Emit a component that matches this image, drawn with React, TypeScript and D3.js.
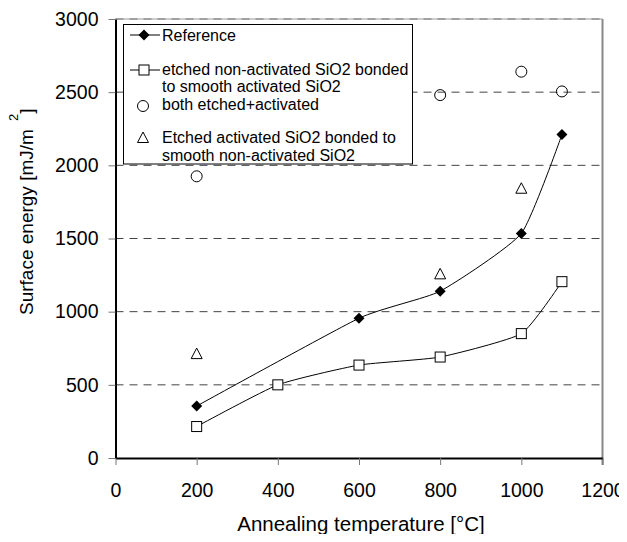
import React, { useEffect, useRef } from 'react';
import * as d3 from 'd3';

const WIDTH = 627;
const HEIGHT = 542;

const MARGIN = { top: 19, right: 24.5, bottom: 84, left: 115.5 };

// series
const refTemps = [200, 600, 800, 1000, 1100];
const refValues = [355, 955, 1140, 1535, 2210];

const etchedNonActTemps = [200, 400, 600, 800, 1000, 1100];
const etchedNonActValues = [215, 500, 635, 690, 850, 1205];

const bothTemps = [200, 800, 1000, 1100];
const bothValues = [1925, 2480, 2640, 2505];

const etchedActTemps = [200, 800, 1000];
const etchedActValues = [710, 1255, 1840];

const xTicks = [0, 200, 400, 600, 800, 1000, 1200];
const yTicks = [0, 500, 1000, 1500, 2000, 2500, 3000];

const FONT = '"Liberation Sans", Arial, sans-serif';

export default function App() {
  const ref = useRef<SVGSVGElement>(null);

  useEffect(() => {
    const svg = d3.select(ref.current);
    svg.selectAll('*').remove();

    const x = d3.scaleLinear().domain([0, 1200]).range([MARGIN.left, WIDTH - MARGIN.right]);
    const y = d3.scaleLinear().domain([0, 3000]).range([HEIGHT - MARGIN.bottom, MARGIN.top]);

    // gridlines
    svg.append('g')
      .selectAll('line')
      .data(yTicks.filter(t => t > 0))
      .enter()
      .append('line')
      .attr('x1', x(0))
      .attr('x2', x(1200))
      .attr('y1', d => y(d))
      .attr('y2', d => y(d))
      .attr('stroke', '#444')
      .attr('stroke-width', 1)
      .attr('stroke-dasharray', '8,6');

    // right border
    svg.append('line')
      .attr('x1', x(1200)).attr('x2', x(1200))
      .attr('y1', y(3000)).attr('y2', y(0) + 7)
      .attr('stroke', '#888').attr('stroke-width', 2);

    svg.append('line')
      .attr('x1', x(0)).attr('x2', x(1200))
      .attr('y1', y(3000)).attr('y2', y(3000))
      .attr('stroke', '#999').attr('stroke-width', 1)
      .attr('stroke-dasharray', '8,6')
      .attr('stroke-dashoffset', 7);

    // axes
    const xAxis = svg.append('g')
      .attr('transform', `translate(0, ${y(0)})`)
      .call(d3.axisBottom(x).tickValues(xTicks).tickFormat(d3.format('d')).tickSize(7).tickSizeOuter(0).tickPadding(18));
    xAxis.select('.domain').attr('stroke', '#000').attr('stroke-width', 2);
    xAxis.selectAll('.tick line').attr('stroke', '#777');
    xAxis.selectAll('text')
      .attr('font-family', FONT).attr('font-size', 19.5).attr('fill', '#000');

    const yAxis = svg.append('g')
      .attr('transform', `translate(${x(0)}, 0)`)
      .call(d3.axisLeft(y).tickValues(yTicks).tickFormat(d3.format('d')).tickSize(7).tickSizeOuter(0).tickPadding(10));
    yAxis.select('.domain').attr('stroke', '#000').attr('stroke-width', 2);
    yAxis.selectAll('.tick line').attr('stroke', '#777');
    yAxis.selectAll('text')
      .attr('font-family', FONT).attr('font-size', 19.5).attr('fill', '#000');

    // lines
    const line = d3.line<[number, number]>()
      .x(d => x(d[0]))
      .y(d => y(d[1]))
      .curve(d3.curveCardinal.tension(0.5));

    svg.append('path')
      .attr('d', line(refTemps.map((t, i) => [t, refValues[i]])))
      .attr('fill', 'none').attr('stroke', '#000').attr('stroke-width', 1);

    svg.append('path')
      .attr('d', line(etchedNonActTemps.map((t, i) => [t, etchedNonActValues[i]])))
      .attr('fill', 'none').attr('stroke', '#000').attr('stroke-width', 1);

    const diamond = (g: any) => g.append('path')
      .attr('d', 'M0,-5.5L5.5,0L0,5.5L-5.5,0Z')
      .attr('fill', '#000');
    const square = (g: any) => g.append('rect')
      .attr('x', -5).attr('y', -5).attr('width', 10).attr('height', 10)
      .attr('fill', '#fff').attr('stroke', '#000').attr('stroke-width', 1);
    const circle = (g: any) => g.append('circle')
      .attr('r', 5.5)
      .attr('fill', 'none').attr('stroke', '#000').attr('stroke-width', 1);
    const triangle = (g: any) => g.append('path')
      .attr('d', 'M0,-6L5.5,4.5L-5.5,4.5Z')
      .attr('fill', 'none').attr('stroke', '#000').attr('stroke-width', 1);

    const markers = (temps: number[], values: number[], draw: (g: any) => void) => {
      temps.forEach((t, i) => {
        const g = svg.append('g').attr('transform', `translate(${x(t)}, ${y(values[i])})`);
        draw(g);
      });
    };

    markers(refTemps, refValues, diamond);
    markers(etchedNonActTemps, etchedNonActValues, square);
    markers(bothTemps, bothValues, circle);
    markers(etchedActTemps, etchedActValues, triangle);

    // legend
    const legend = svg.append('g');
    legend.append('rect')
      .attr('x', 123.5).attr('y', 24.5).attr('width', 289).attr('height', 139.5)
      .attr('fill', '#fff').attr('stroke', '#000').attr('stroke-width', 1);

    const legendText = (tx: number, ty: number, s: string) => legend.append('text')
      .attr('x', tx).attr('y', ty)
      .attr('font-family', FONT).attr('font-size', 16).attr('fill', '#000')
      .text(s);

    const legendLine = (ly: number) => legend.append('line')
      .attr('x1', 130).attr('x2', 160).attr('y1', ly).attr('y2', ly)
      .attr('stroke', '#000').attr('stroke-width', 1);

    legendLine(35);
    diamond(legend.append('g').attr('transform', 'translate(144, 35)'));
    legendText(162, 41, 'Reference');

    legendLine(70);
    square(legend.append('g').attr('transform', 'translate(144, 70)'));
    legendText(162, 75, 'etched non-activated SiO2 bonded');
    legendText(162, 92, 'to smooth activated SiO2');

    circle(legend.append('g').attr('transform', 'translate(143, 106)'));
    legendText(162, 110, 'both etched+activated');

    triangle(legend.append('g').attr('transform', 'translate(143, 138)'));
    legendText(162, 143, 'Etched activated SiO2 bonded to');
    legendText(162, 161, 'smooth non-activated SiO2');

    // axis titles
    svg.append('text')
      .attr('x', (x(0) + x(1200)) / 2 + 2)
      .attr('y', 531)
      .attr('text-anchor', 'middle')
      .attr('font-family', FONT).attr('font-size', 20.5).attr('fill', '#000')
      .text('Annealing temperature [°C]');

    const yTitle = svg.append('text')
      .attr('transform', 'translate(33, 315) rotate(-90)')
      .attr('font-family', FONT).attr('font-size', 19).attr('fill', '#000');
    yTitle.append('tspan').text('Surface energy [mJ/m ');
    yTitle.append('tspan').attr('dx', 3).attr('dy', -15).attr('font-size', 13).text('2');
    yTitle.append('tspan').attr('dy', 15).text(']');
  }, []);

  return <svg ref={ref} width={WIDTH} height={HEIGHT} style={{ display: 'block', margin: -8 }}></svg>;
}
